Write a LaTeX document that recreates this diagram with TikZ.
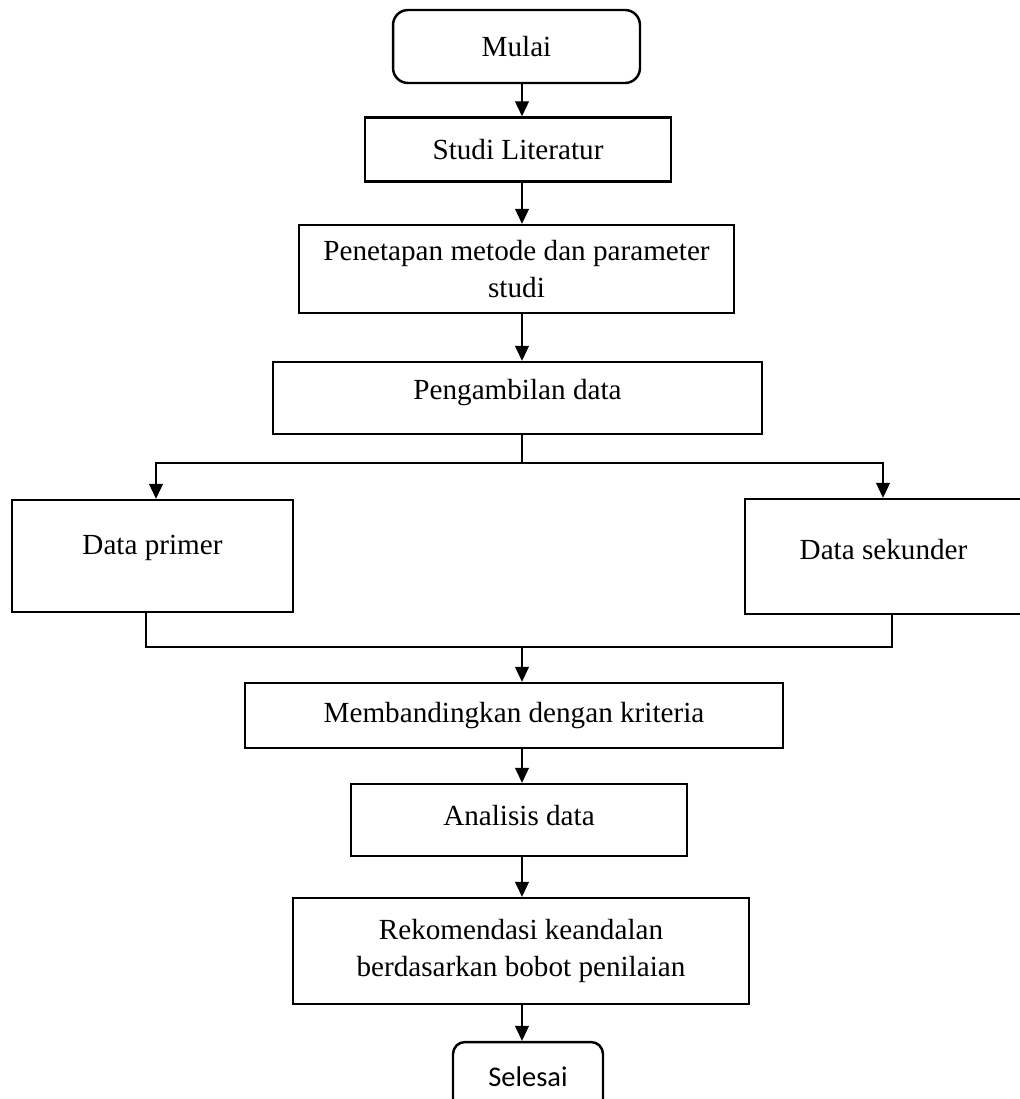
\documentclass[tikz,border=0pt]{standalone}
\usepackage{fontspec}
\setmainfont{Liberation Serif}
\newfontfamily\timesfont{Liberation Serif}
\newfontfamily\selesaifont{Carlito}
\usetikzlibrary{shapes,arrows,arrows.meta,positioning,calc}

% raise a text inside its box without changing the box
\newcommand{\naik}[2]{\raisebox{#1}[\height][\depth]{#2}}

\tikzset{
  proses/.style={draw, line width=1.4pt, align=center, inner sep=0pt, font=\timesfont\fontsize{16.6}{21.3}\selectfont},
  terminal/.style={proses, rounded corners=0.3cm},
  garis/.style={line width=0.6pt},
  panah/.style={garis, -{Triangle[length=0.3cm, width=0.28cm]}}
}

\begin{document}
\begin{tikzpicture}[x=0.02cm, y=-0.02cm]
  \useasboundingbox (0,0) rectangle (1019,1099);

  % Main steps
  \node[terminal, minimum width=4.94cm, minimum height=1.46cm] (mulai) at (516.5,46.5) {Mulai};
  \node[proses, minimum width=6.12cm, minimum height=1.28cm] (studi) at (518,149.5) {Studi Literatur};
  \node[proses, minimum width=8.7cm, minimum height=1.76cm] (penetapan) at (516.5,269) {Penetapan metode dan parameter\\studi};
  \node[proses, minimum width=9.78cm, minimum height=1.44cm] (pengambilan) at (517.5,398) {\naik{0.1cm}{Pengambilan data}};

  % Data sources
  \node[proses, minimum width=5.62cm, minimum height=2.24cm] (primer) at (152.5,556) {\naik{0.16cm}{Data primer}};
  \node[proses, minimum width=5.54cm, minimum height=2.3cm] (sekunder) at (883.5,556.5) {\naik{0.14cm}{Data sekunder}};

  % Analysis steps
  \node[proses, minimum width=10.76cm, minimum height=1.3cm] (banding) at (514,715.5) {Membandingkan dengan kriteria};
  \node[proses, minimum width=6.72cm, minimum height=1.44cm] (analisis) at (519,820) {\naik{0.08cm}{Analisis data}};
  \node[proses, minimum width=9.12cm, minimum height=2.12cm] (rekomendasi) at (521,951) {Rekomendasi keandalan\\berdasarkan bobot penilaian};
  \node[terminal, rounded corners=0.24cm, minimum width=3cm, minimum height=1.4cm, font=\selesaifont\fontsize{16.2}{20}\selectfont] (selesai) at (528,1077) {Selesai};

  % Straight arrows
  \coordinate (sumbu) at (522,0);
  \foreach \a/\b in {mulai/studi, studi/penetapan, penetapan/pengambilan, banding/analisis, analisis/rekomendasi, rekomendasi/selesai} {
    \draw[panah] (\a.south -| sumbu) -- (\b.north -| sumbu);
  }

  % Branch to the two data boxes
  \coordinate (cabang) at (522,463);
  \coordinate (kiri) at (156,463);
  \coordinate (kanan) at (883,463);
  \draw[garis] (pengambilan.south -| sumbu) -- (cabang);
  \draw[panah] (cabang) -- (kiri) -- (kiri |- primer.north);
  \draw[panah] (cabang) -- (kanan) -- (kanan |- sekunder.north);

  % Merge back
  \coordinate (gabung) at (522,647);
  \coordinate (kirib) at (146,647);
  \coordinate (kananb) at (892,647);
  \draw[garis] (kirib |- primer.south) -- (kirib) -- (kananb) -- (kananb |- sekunder.south);
  \draw[panah] (gabung) -- (banding.north -| gabung);
\end{tikzpicture}
\end{document}
